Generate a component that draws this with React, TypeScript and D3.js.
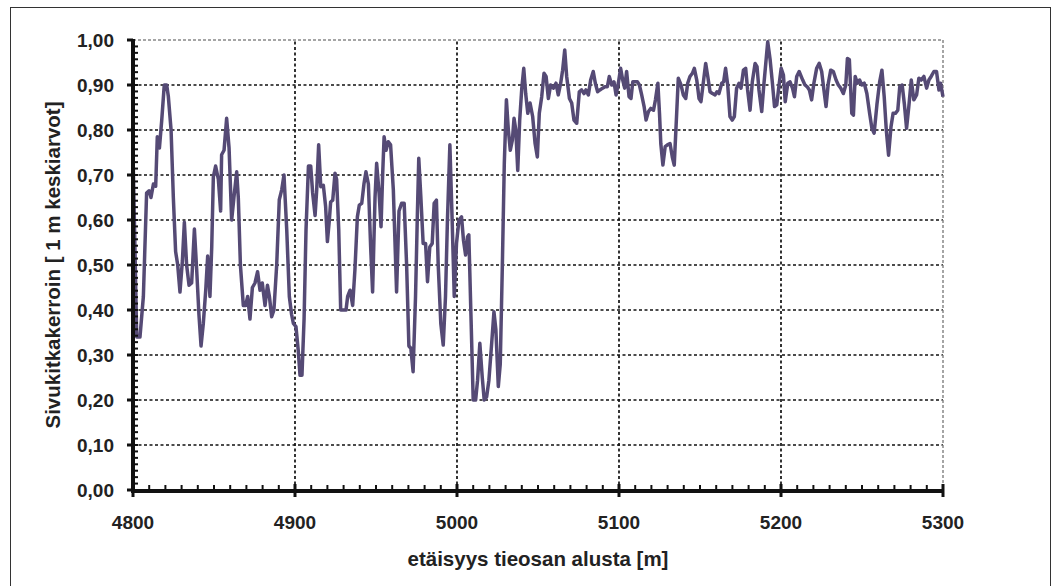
import React, { useEffect, useRef } from "react";
import * as d3 from "d3";

// distance along the road section [m]
const distances = [
  4800, 4802.3, 4804.3, 4806.4, 4808.4, 4809.9, 4811.1, 4812.6, 4814, 4815, 4816.3, 4817.7, 4819.3, 4820.8,
  4821.8, 4823.5, 4824.9, 4826.3, 4827.6, 4829, 4830.5, 4831.7, 4833.1, 4834.6, 4836.2, 4837.9, 4839.3, 4840.7,
  4842, 4843.4, 4844.9, 4846.1, 4847.5, 4848.6, 4849.6, 4851, 4852.7, 4854.1, 4854.7, 4856.2, 4857.8, 4859.3,
  4860.9, 4862.3, 4864, 4865, 4866.3, 4868.1, 4869.5, 4870.8, 4872.2, 4873.7, 4875.3, 4876.9, 4878.4, 4879.8,
  4881.5, 4883, 4884.2, 4885.6, 4887, 4888.7, 4890.3, 4891.8, 4893.2, 4894.9, 4896.5, 4897.9, 4899, 4900.6,
  4902, 4903.1, 4904.3, 4905.6, 4906.8, 4908.3, 4909.7, 4910.9, 4912.4, 4913.4, 4914.6, 4915.9, 4917.5, 4918.9,
  4920, 4921.2, 4922, 4923.3, 4924.7, 4925.7, 4927, 4928.2, 4929.8, 4931.5, 4932.5, 4934, 4935.6, 4937,
  4938.5, 4939.7, 4941.2, 4942.6, 4943.8, 4945.3, 4946.7, 4947.9, 4949.4, 4950.4, 4951.9, 4953.1, 4954.1, 4955,
  4956.2, 4957.6, 4959, 4960.7, 4962.7, 4964.2, 4965.8, 4967.4, 4968.9, 4970.3, 4971.5, 4972.9, 4974.4, 4975.6,
  4976.4, 4977.7, 4979.1, 4980.6, 4981.8, 4983.2, 4984.7, 4985.9, 4987.3, 4988.4, 4990, 4991.5, 4992.9, 4994.1,
  4995.6, 4997, 4998.3, 4999.7, 5001.2, 5002.8, 5004, 5005.3, 5006.5, 5007.3, 5008.6, 5010, 5011.5, 5012.7,
  5014.1, 5015.6, 5016.8, 5018.3, 5019.7, 5021.4, 5022.8, 5024, 5025.5, 5026.7, 5028, 5029.2, 5030.5, 5031.7,
  5032.9, 5034.2, 5035.2, 5036.3, 5037.5, 5038.7, 5040, 5041.2, 5042.4, 5043.7, 5045.1, 5046.7, 5048.2, 5049.6,
  5050.8, 5052.3, 5053.7, 5055, 5056.4, 5057.8, 5059.5, 5061.1, 5062.5, 5064, 5065.2, 5066.5, 5067.7, 5069.4,
  5070.8, 5072.2, 5073.9, 5075.5, 5076.9, 5078.4, 5079.6, 5081.1, 5082.5, 5084.1, 5085.4, 5086.8, 5088.2, 5089.9,
  5091.3, 5092.8, 5094, 5095.5, 5096.9, 5098.2, 5099.6, 5101, 5102.3, 5103.5, 5104.7, 5106.2, 5107.4, 5108.5,
  5109.9, 5111.4, 5112.6, 5114, 5115.5, 5116.7, 5118.2, 5119.6, 5121.3, 5122.5, 5124, 5125, 5125.8, 5127.1,
  5128.5, 5129.9, 5131.5, 5132.9, 5134.1, 5135.6, 5136.6, 5138.3, 5139.7, 5141.2, 5142.4, 5143.8, 5145.3, 5146.5,
  5148, 5149.4, 5150.6, 5152.1, 5153.5, 5154.8, 5156.2, 5157.7, 5159.3, 5160.5, 5161.7, 5163.4, 5164.6, 5165.8,
  5167.1, 5168.5, 5169.9, 5171.2, 5172.6, 5174.1, 5175.3, 5176.8, 5178.2, 5179.4, 5180.9, 5182.3, 5184, 5185.2,
  5186.4, 5188.1, 5189.3, 5190.6, 5191.8, 5193.3, 5194.7, 5196, 5197.4, 5198.8, 5200.1, 5201.5, 5202.6, 5204.2,
  5205.6, 5207.1, 5208.3, 5209.7, 5211.2, 5213.4, 5214.8, 5216.2, 5217.5, 5218.9, 5220.3, 5222, 5223.6, 5225.1,
  5226.5, 5227.8, 5229.2, 5230.7, 5232.3, 5234, 5235.4, 5236.9, 5238.5, 5240, 5241, 5242.2, 5243.7, 5244.7,
  5245.8, 5247.2, 5248.5, 5249.9, 5251.4, 5253, 5254.7, 5256.1, 5257.5, 5259.2, 5260.9, 5262.3, 5263.7, 5265,
  5266.4, 5267.9, 5269.2, 5270.6, 5272.1, 5273.3, 5274.8, 5276.2, 5277.5, 5278.9, 5280.4, 5282, 5283.7, 5285.1,
  5286.6, 5288.2, 5289.9, 5291.3, 5292.7, 5294.4, 5296, 5297.5, 5298.5, 5300,
];

// side friction coefficient, 1 m averages
const friction = [
  0.75, 0.34, 0.34, 0.43, 0.66, 0.665, 0.65, 0.68, 0.675, 0.785, 0.76, 0.82, 0.9, 0.9,
  0.875, 0.8, 0.65, 0.53, 0.5, 0.44, 0.51, 0.595, 0.5, 0.455, 0.46, 0.58, 0.49, 0.39,
  0.32, 0.37, 0.444, 0.52, 0.43, 0.54, 0.696, 0.72, 0.69, 0.62, 0.745, 0.755, 0.826, 0.76,
  0.6, 0.65, 0.707, 0.65, 0.5, 0.41, 0.41, 0.43, 0.38, 0.45, 0.46, 0.485, 0.444, 0.46,
  0.41, 0.455, 0.43, 0.385, 0.4, 0.5, 0.645, 0.667, 0.7, 0.578, 0.43, 0.39, 0.37, 0.363,
  0.31, 0.255, 0.255, 0.38, 0.578, 0.72, 0.72, 0.66, 0.61, 0.667, 0.767, 0.674, 0.677, 0.63,
  0.552, 0.6, 0.64, 0.644, 0.704, 0.69, 0.578, 0.4, 0.4, 0.4, 0.43, 0.444, 0.41, 0.49,
  0.607, 0.633, 0.637, 0.681, 0.707, 0.68, 0.54, 0.44, 0.65, 0.726, 0.66, 0.585, 0.7, 0.785,
  0.755, 0.774, 0.767, 0.667, 0.44, 0.62, 0.637, 0.637, 0.5, 0.32, 0.315, 0.263, 0.43, 0.622,
  0.737, 0.65, 0.548, 0.548, 0.463, 0.54, 0.548, 0.637, 0.644, 0.5, 0.37, 0.322, 0.43, 0.6,
  0.767, 0.6, 0.43, 0.548, 0.6, 0.607, 0.555, 0.522, 0.563, 0.567, 0.39, 0.2, 0.2, 0.244,
  0.326, 0.25, 0.2, 0.207, 0.244, 0.326, 0.396, 0.356, 0.23, 0.28, 0.5, 0.726, 0.867, 0.8,
  0.755, 0.778, 0.826, 0.8, 0.71, 0.822, 0.893, 0.937, 0.881, 0.837, 0.86, 0.83, 0.77, 0.74,
  0.837, 0.874, 0.926, 0.919, 0.87, 0.9, 0.893, 0.904, 0.878, 0.904, 0.933, 0.978, 0.919, 0.87,
  0.86, 0.822, 0.815, 0.885, 0.889, 0.881, 0.889, 0.878, 0.911, 0.93, 0.904, 0.885, 0.889, 0.893,
  0.896, 0.896, 0.919, 0.9, 0.907, 0.878, 0.904, 0.937, 0.911, 0.893, 0.93, 0.874, 0.87, 0.907,
  0.907, 0.907, 0.9, 0.878, 0.852, 0.822, 0.841, 0.848, 0.844, 0.867, 0.904, 0.837, 0.77, 0.722,
  0.763, 0.767, 0.77, 0.74, 0.722, 0.837, 0.915, 0.9, 0.878, 0.87, 0.904, 0.919, 0.926, 0.937,
  0.911, 0.87, 0.863, 0.907, 0.948, 0.919, 0.885, 0.881, 0.878, 0.885, 0.881, 0.904, 0.907, 0.937,
  0.9, 0.83, 0.822, 0.83, 0.893, 0.904, 0.893, 0.933, 0.937, 0.889, 0.844, 0.907, 0.948, 0.941,
  0.889, 0.841, 0.896, 0.948, 0.996, 0.956, 0.904, 0.852, 0.856, 0.9, 0.937, 0.922, 0.863, 0.904,
  0.907, 0.893, 0.874, 0.919, 0.93, 0.911, 0.9, 0.896, 0.889, 0.867, 0.904, 0.937, 0.948, 0.93,
  0.889, 0.852, 0.904, 0.933, 0.93, 0.911, 0.9, 0.893, 0.881, 0.9, 0.959, 0.956, 0.837, 0.833,
  0.919, 0.904, 0.911, 0.9, 0.904, 0.881, 0.837, 0.804, 0.793, 0.856, 0.907, 0.933, 0.874, 0.8,
  0.744, 0.807, 0.837, 0.837, 0.844, 0.896, 0.9, 0.856, 0.804, 0.852, 0.911, 0.867, 0.878, 0.915,
  0.911, 0.919, 0.893, 0.911, 0.919, 0.93, 0.93, 0.889, 0.904, 0.874,
];

const xTicks = [4800, 4900, 5000, 5100, 5200, 5300];
const yTicks = [0, 0.1, 0.2, 0.3, 0.4, 0.5, 0.6, 0.7, 0.8, 0.9, 1.0];

const width = 1058;
const height = 586;
const margin = { top: 40, right: 115, bottom: 96, left: 133 };
const font = "'Liberation Sans', Arial, sans-serif";

const App = () => {
  const svgRef = useRef<SVGSVGElement>(null);

  useEffect(() => {
    const svg = d3.select(svgRef.current);
    svg.selectAll("*").remove();

    const x = d3
      .scaleLinear()
      .domain([4800, 5300])
      .range([margin.left, width - margin.right]);
    const y = d3
      .scaleLinear()
      .domain([0, 1])
      .range([height - margin.bottom, margin.top]);

    const x0 = x(4800), x1 = x(5300), y0 = y(0), y1 = y(1);

    // outer frame
    svg
      .append("rect")
      .attr("x", 10.5)
      .attr("y", 7.5)
      .attr("width", 1040)
      .attr("height", 600)
      .attr("fill", "#fff")
      .attr("stroke", "#333")
      .attr("stroke-width", 1);

    // horizontal grid
    svg
      .append("g")
      .selectAll("line")
      .data(yTicks.slice(1, -1))
      .enter()
      .append("line")
      .attr("x1", x0)
      .attr("x2", x1)
      .attr("y1", (d) => y(d))
      .attr("y2", (d) => y(d))
      .attr("stroke", "#111")
      .attr("stroke-width", 1.7)
      .attr("stroke-dasharray", "3,2.5");

    // vertical grid
    svg
      .append("g")
      .selectAll("line")
      .data(xTicks.slice(1, -1))
      .enter()
      .append("line")
      .attr("x1", (d) => x(d))
      .attr("x2", (d) => x(d))
      .attr("y1", y0)
      .attr("y2", y1)
      .attr("stroke", "#111")
      .attr("stroke-width", 1.7)
      .attr("stroke-dasharray", "3,2.5");

    // plot area border, top and right
    svg
      .append("path")
      .attr("d", `M${x0},${y1}H${x1}V${y0}`)
      .attr("fill", "none")
      .attr("stroke", "#888")
      .attr("stroke-width", 1.5)
      .attr("stroke-dasharray", "3,2");

    // data line
    const points = distances.map((d, i) => [d, friction[i]] as [number, number]);
    const line = d3
      .line<[number, number]>()
      .x((d) => x(d[0]))
      .y((d) => y(d[1]));

    svg
      .append("path")
      .datum(points)
      .attr("d", line)
      .attr("fill", "none")
      .attr("stroke", "#554a75")
      .attr("stroke-width", 3.5)
      .attr("stroke-linejoin", "round");

    // y axis
    const yAxis = svg.append("g");
    yAxis
      .selectAll(".minor")
      .data(d3.range(0, 70).map((i) => i / 70))
      .enter()
      .append("line")
      .attr("x1", x0)
      .attr("x2", x0 + 5)
      .attr("y1", (d) => y(d))
      .attr("y2", (d) => y(d))
      .attr("stroke", "#111")
      .attr("stroke-width", 2);
    yAxis
      .selectAll(".major")
      .data(yTicks)
      .enter()
      .append("line")
      .attr("x1", x0 - 6)
      .attr("x2", x0)
      .attr("y1", (d) => y(d))
      .attr("y2", (d) => y(d))
      .attr("stroke", "#111")
      .attr("stroke-width", 3);
    yAxis
      .append("line")
      .attr("x1", x0)
      .attr("x2", x0)
      .attr("y1", y1 - 1)
      .attr("y2", y0 + 2)
      .attr("stroke", "#111")
      .attr("stroke-width", 4);
    yAxis
      .selectAll("text")
      .data(yTicks)
      .enter()
      .append("text")
      .attr("x", x0 - 19)
      .attr("y", (d) => y(d))
      .attr("dy", "0.36em")
      .attr("text-anchor", "end")
      .attr("font-family", font)
      .attr("font-weight", "bold")
      .attr("font-size", 19)
      .attr("fill", "#222")
      .text((d) => d3.format(".2f")(d).replace(".", ","));

    // x axis
    const xAxis = svg.append("g");
    xAxis
      .selectAll(".minor")
      .data(d3.range(4800, 5300, 10))
      .enter()
      .append("line")
      .attr("x1", (d) => x(d))
      .attr("x2", (d) => x(d))
      .attr("y1", y0 - 5)
      .attr("y2", y0)
      .attr("stroke", "#111")
      .attr("stroke-width", 2);
    xAxis
      .selectAll(".major")
      .data(xTicks)
      .enter()
      .append("line")
      .attr("x1", (d) => x(d))
      .attr("x2", (d) => x(d))
      .attr("y1", y0 - 6)
      .attr("y2", y0 + 7)
      .attr("stroke", "#111")
      .attr("stroke-width", 3);
    xAxis
      .append("line")
      .attr("x1", x0 - 2)
      .attr("x2", x1 + 1)
      .attr("y1", y0 + 1)
      .attr("y2", y0 + 1)
      .attr("stroke", "#111")
      .attr("stroke-width", 4);
    xAxis
      .selectAll("text")
      .data(xTicks)
      .enter()
      .append("text")
      .attr("x", (d) => x(d))
      .attr("y", y0 + 39)
      .attr("text-anchor", "middle")
      .attr("font-family", font)
      .attr("font-weight", "bold")
      .attr("font-size", 19)
      .attr("fill", "#222")
      .text((d) => d);

    // axis titles
    svg
      .append("text")
      .attr("x", (x0 + x1) / 2)
      .attr("y", 566)
      .attr("text-anchor", "middle")
      .attr("font-family", font)
      .attr("font-weight", "bold")
      .attr("font-size", 20.5)
      .attr("fill", "#222")
      .text("etäisyys tieosan alusta [m]");

    svg
      .append("text")
      .attr("transform", `translate(60,${(y0 + y1) / 2}) rotate(-90)`)
      .attr("text-anchor", "middle")
      .attr("font-family", font)
      .attr("font-weight", "bold")
      .attr("font-size", 20.5)
      .attr("fill", "#222")
      .text("Sivukitkakerroin [ 1 m keskiarvot]");
  }, []);

  return (
    <svg
      ref={svgRef}
      width={width}
      height={height}
      style={{ position: "absolute", left: 0, top: 0 }}
    ></svg>
  );
};

export default App;
